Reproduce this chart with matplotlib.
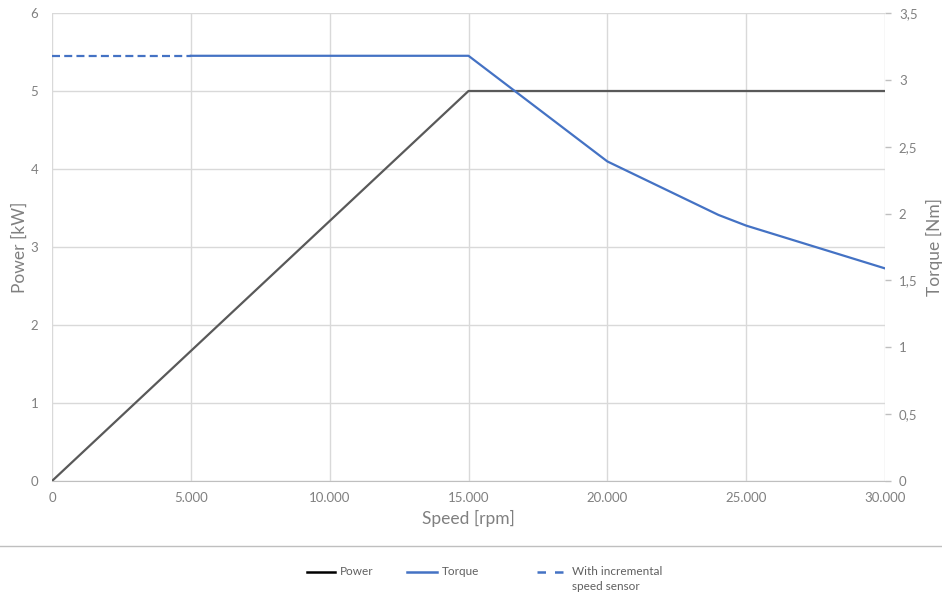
import matplotlib
matplotlib.use("Agg")
import matplotlib.pyplot as plt
from matplotlib.lines import Line2D
from matplotlib.ticker import FuncFormatter

plt.rcParams['font.family'] = ['Lato', 'DejaVu Sans']

# Data
power_speed = [0, 15000, 30000]
power_kw = [0, 5, 5]
torque_dashed_speed = [0, 5000]
torque_dashed_nm = [3.18, 3.18]
torque_speed = [5000, 15000, 20000, 24000, 25000, 30000]
torque_nm = [3.18, 3.18, 2.39, 1.99, 1.91, 1.59]

x_ticks = [0, 5000, 10000, 15000, 20000, 25000, 30000]
power_ticks = [0, 1, 2, 3, 4, 5, 6]
torque_ticks = [0, 0.5, 1, 1.5, 2, 2.5, 3, 3.5]
legend_labels = ['Power', 'Torque', 'With incremental\nspeed sensor']

txt = '#808080'
grid = '#d9d9d9'
blue = '#4472C4'
dark = '#595959'

W, H = 942, 594
fig = plt.figure(figsize=(W/100, H/100), dpi=100)
ax = fig.add_axes([52/W, 1-481/H, (885-52)/W, (481-13)/H])
ax2 = ax.twinx()

ax.plot(power_speed, power_kw, color=dark, lw=1.6, zorder=3)
ax2.plot(torque_speed, torque_nm, color=blue, lw=1.6, zorder=3)
ax2.plot(torque_dashed_speed, torque_dashed_nm, color=blue, lw=1.6, ls=(0, (3.6, 1.9)), zorder=3)

ax.set_xlim(0, 30000)
ax.set_ylim(0, 6)
ax2.set_ylim(0, 3.5)
ax.set_xticks(x_ticks)
ax.set_yticks(power_ticks)
ax2.set_yticks(torque_ticks)

ax.xaxis.set_major_formatter(FuncFormatter(lambda v, p: f"{int(v):,}".replace(',', '.')))
ax2.yaxis.set_major_formatter(FuncFormatter(lambda v, p: (f"{v:g}").replace('.', ',')))

ax.grid(True, color=grid, lw=1)
ax.set_axisbelow(True)
for s in ['top', 'right', 'left']:
    ax.spines[s].set_visible(False)
    ax2.spines[s].set_visible(False)
ax2.spines['bottom'].set_visible(False)
ax.spines['bottom'].set_color('#bfbfbf')

ax.tick_params(axis='x', length=0, pad=8, labelsize=9.5, labelcolor=txt)
ax.tick_params(axis='y', length=0, pad=10, labelsize=9.5, labelcolor=txt)
ax2.tick_params(axis='y', length=4, width=1, color='#bfbfbf', pad=6, labelsize=9.5, labelcolor=txt)

ax.set_xlabel('Speed [rpm]', fontsize=12.5, color=txt, labelpad=4)
ax.set_ylabel('Power [kW]', fontsize=12.5, color=txt, labelpad=2)
ax2.set_ylabel('Torque [Nm]', fontsize=12.5, color=txt, labelpad=6)

# separator line
fig.add_artist(Line2D([0, 1], [1-546/H, 1-546/H], color='#bfbfbf', lw=1, transform=fig.transFigure))

# legend (drawn manually to mimic the original layout)
ly = 1 - 572/H
leg_items = [
    (307, 335, 'black', '-', 340),
    (407, 437, blue, '-', 442),
    (537, 563, blue, (0, (3.4, 3.6)), 572),
]
for (x0, x1, c, ls, tx), lab in zip(leg_items, legend_labels):
    fig.add_artist(Line2D([x0/W, x1/W], [ly, ly], color=c, lw=1.8, ls=ls, transform=fig.transFigure))
    fig.text(tx/W, 1 - 566/H, lab, fontsize=8.5, color='#606060', ha='left', va='top', linespacing=1.45)

fig.savefig('out.png', dpi=100)
